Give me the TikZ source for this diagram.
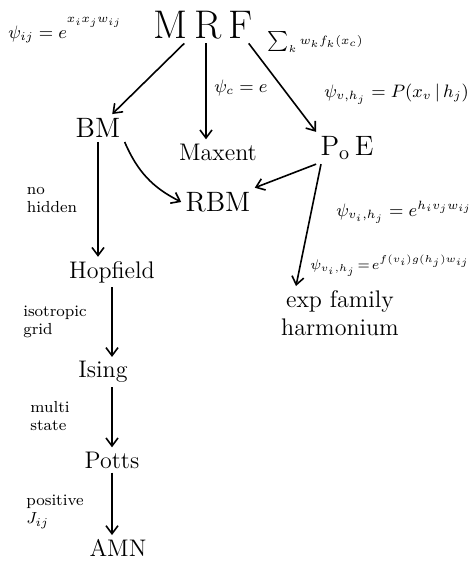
\documentclass[tikz,border=0pt]{standalone}
\usetikzlibrary{arrows.meta}
\begin{document}
\begin{tikzpicture}[x=0.5pt,y=-0.5pt,
  arr/.style={-{Straight Barb[length=4pt,width=6pt]}, line width=0.8pt},
  big/.style={font=\fontsize{20}{22}\selectfont, inner sep=2pt},
  mid/.style={font=\fontsize{14}{16}\selectfont, inner sep=2pt},
  sml/.style={font=\fontsize{12}{14}\selectfont, inner sep=2pt},
  lab/.style={font=\fontsize{8}{9}\selectfont, align=left, inner sep=1pt},
  eq/.style={font=\fontsize{9}{10}\selectfont, inner sep=1pt}]
\useasboundingbox (0,0) rectangle (475,569);

% nodes
\node[big] (MRF) at (203,25) {M\,R\,F};
\node[mid] (BM) at (98,128) {BM};
\node[sml] (Max) at (218,152) {Maxent};
\node[mid] (PoE) at (347,148) {P$_\mathrm{o}$\,E};
\node[mid] (RBM) at (218,202) {RBM};
\node[sml] (Hop) at (112,272) {Hopfield};
\node[sml] (Ising) at (103,372) {Ising};
\node[sml] (Potts) at (112,460) {Potts};
\node[sml] (AMN) at (118,548) {AMN};
\node[sml, align=center] (Exp) at (340,313) {exp family\\harmonium};

% edge labels
\node[eq, anchor=west] (Lij) at (6,30) {$\psi_{ij} = e^{\raisebox{4pt}{$\scriptstyle x_i x_j w_{ij}$}}$};
\node[eq, anchor=west] (Lc) at (212,64) {$\psi_c = e^{\raisebox{20pt}{$\scriptstyle \sum_k w_k f_k(x_c)$}}$};
\node[eq, anchor=west] (Lvh) at (322,94) {$\psi_{v,h_j} = P(x_v\,|\,h_j)$};
\node[eq, anchor=west] (Lrbm) at (334,212) {$\psi_{v_i,h_j} = e^{h_i v_j w_{ij}}$};
\node[font=\fontsize{7.5}{9}\selectfont, inner sep=1pt, anchor=east] (Lexp) at (472,266) {$\psi_{v_i,h_j}\!=\!e^{f(v_i)g(h_j)w_{ij}}$};
\node[lab] (Lnh) at (52,200) {no\\hidden};
\node[lab] (Liso) at (55,322) {isotropic\\grid};
\node[lab] (Lmul) at (50,416) {multi\\state};
\node[lab] (Lpos) at (55,512) {positive\\$J_{ij}$};

% connectors
\draw[arr] (MRF) -- (BM);
\draw[arr] (MRF.south) ++(3,0) coordinate (m0) -- (m0 |- Max.north);
\draw[arr] ([xshift=-4pt]MRF.south east) -- (PoE.north west);
\draw[arr] (BM.south east) to[bend right=20] (RBM.west);
\draw[arr] (PoE.south west) -- (RBM.north east);
\draw[arr] ([xshift=-13pt]PoE.south) -- ([xshift=-22pt]Exp.north);
\draw[arr] (BM.south) -- (Hop.north -| BM.south);
\draw[arr] (Hop.south) -- (Hop.south |- Ising.north);
\draw[arr] (Ising.south -| Hop.south) -- (Potts.north -| Hop.south);
\draw[arr] (Potts.south) -- (Potts.south |- AMN.north);
\end{tikzpicture}
\end{document}
